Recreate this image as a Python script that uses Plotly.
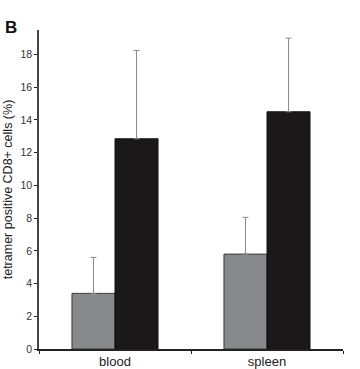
import plotly.graph_objects as go

categories = ["blood", "spleen"]
gray_values = [3.4, 5.8]
gray_err = [2.2, 2.25]
black_values = [12.85, 14.5]
black_err = [5.4, 4.5]

W, H = 360, 369
L, R, T, B = 39, 17, 30, 20

fig = go.Figure()
fig.add_trace(go.Bar(
    x=categories, y=gray_values,
    marker=dict(color="#87898b", line=dict(color="#3a3a3a", width=1)),
    error_y=dict(type="data", symmetric=False, array=gray_err, arrayminus=[0, 0],
                 color="#8a8a8a", thickness=1, width=3),
    showlegend=False,
))
fig.add_trace(go.Bar(
    x=categories, y=black_values,
    marker=dict(color="#1b1819", line=dict(color="#111111", width=1)),
    error_y=dict(type="data", symmetric=False, array=black_err, arrayminus=[0, 0],
                 color="#8a8a8a", thickness=1, width=3),
    showlegend=False,
))

fig.update_layout(
    width=W, height=H,
    margin=dict(l=L, r=R, t=T, b=B, autoexpand=False),
    paper_bgcolor="white", plot_bgcolor="white",
    barmode="group", bargap=0.434, bargroupgap=0,
    font=dict(family="Liberation Sans, Arial, sans-serif", color="#222222"),
    xaxis=dict(
        type="category", tickson="boundaries", ticks="outside", ticklen=3,
        tickcolor="#222", showline=True, linecolor="#222", linewidth=1.5,
        tickfont=dict(size=13, color="#222"), showgrid=False, automargin=False,
    ),
    yaxis=dict(
        range=[0, 19.5], dtick=2, tick0=0, ticks="outside", ticklen=3,
        tickcolor="#222", showline=True, linecolor="#444", linewidth=1.5,
        tickfont=dict(size=10.5, color="#333"), showgrid=False, zeroline=False,
        automargin=False,
        title=dict(text="tetramer positive CD8+ cells (%)", font=dict(size=12.5, color="#222"), standoff=5),
    ),
    annotations=[dict(text="<b>B</b>", x=(3 - L) / (W - L - R), y=(H - B - 28) / (H - T - B),
                      xref="paper", yref="paper",
                      xanchor="left", yanchor="middle", showarrow=False,
                      font=dict(size=17, color="#111"))],
)
fig.write_html("out.html", config={"displayModeBar": False},
               post_script="document.body.style.margin='0';")
